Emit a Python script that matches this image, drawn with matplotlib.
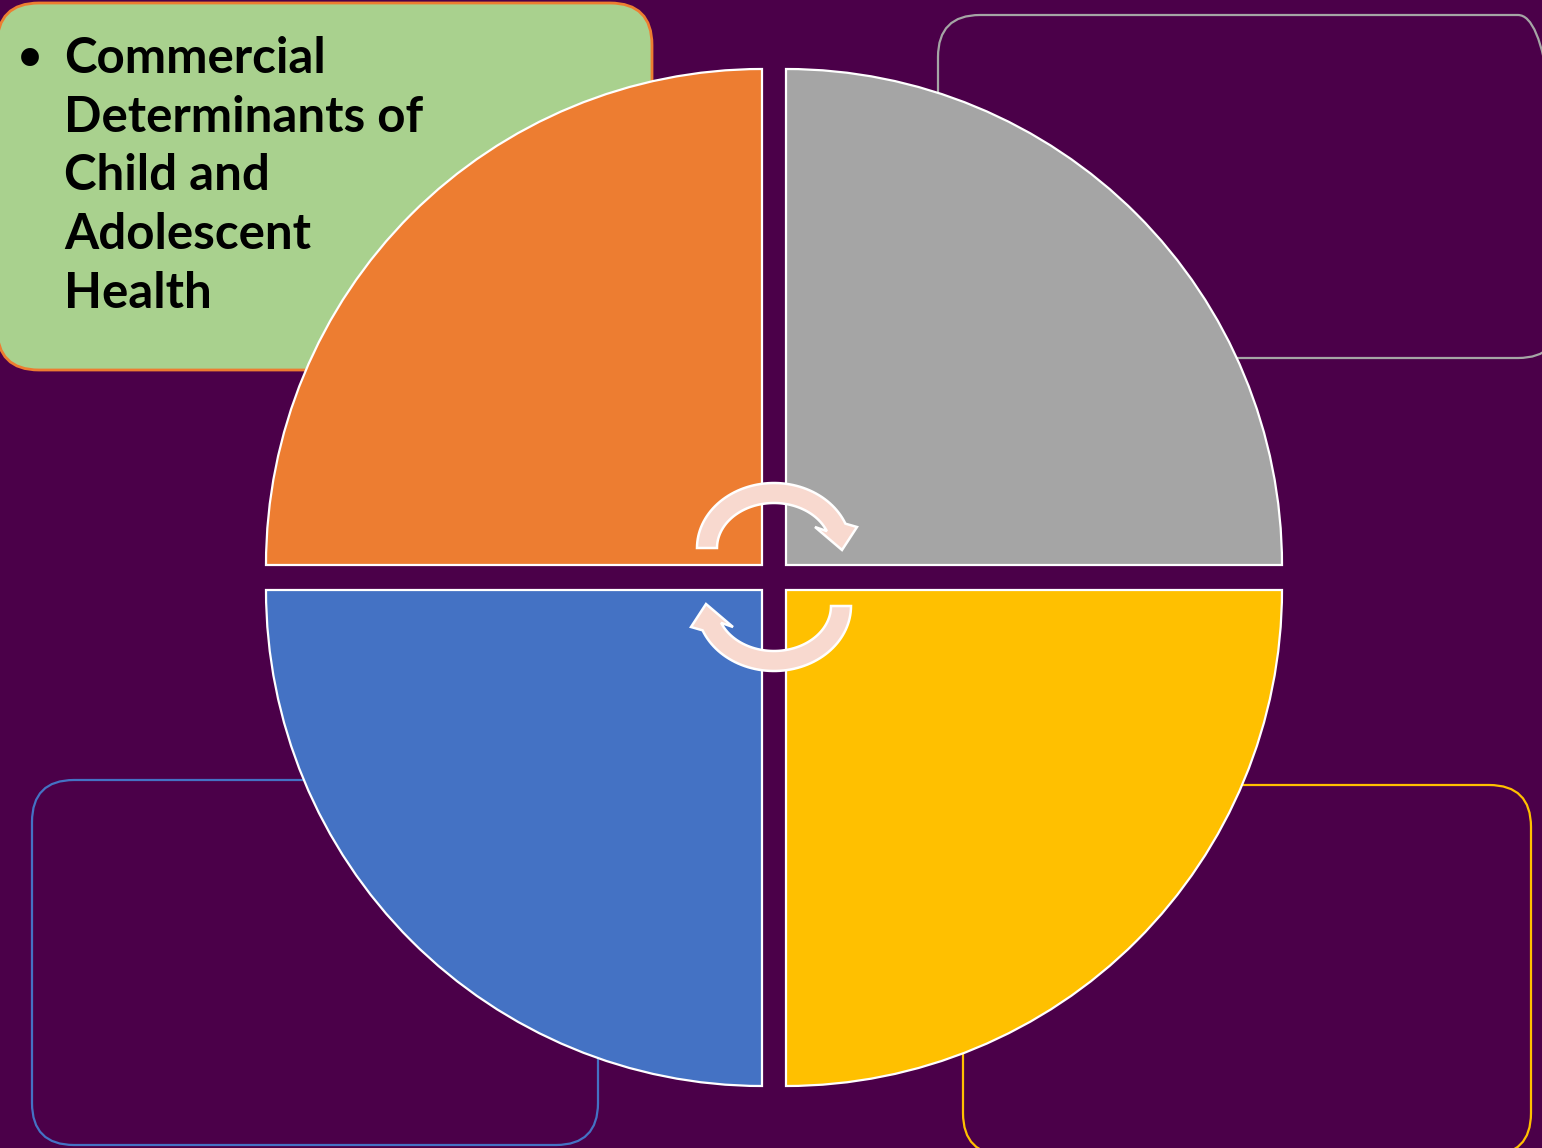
import numpy as np
import matplotlib.pyplot as plt
from matplotlib.patches import Wedge, FancyBboxPatch, Polygon

W, H = 1542, 1148
bg = "#4b0049"

# four quarters of the cycle: (colour, corner x, corner y from top, start angle)
quarter_colors = ["#ed7d31", "#a5a5a5", "#4472c4", "#ffc000"]
quarter_corners = [(762, 565), (786, 565), (762, 590), (786, 590)]
quarter_angles = [90, 0, 180, 270]
radius = 496

# side boxes: (x0, y0 top, x1, y1 bottom), edge colour, face colour
box_rects = [(-3, 3, 652, 370), (938, 15, 1560, 358), (32, 780, 598, 1145), (963, 785, 1531, 1155)]
box_edges = ["#ed7d31", "#a5a5a5", "#4472c4", "#ffc000"]
box_faces = ["#a9d18e", "none", "none", "none"]

text_lines = ["Commercial", "Determinants of", "Child and", "Adolescent", "Health"]

fig = plt.figure(figsize=(W / 100, H / 100), dpi=100)
fig.patch.set_facecolor(bg)
ax = fig.add_axes([0, 0, 1, 1])
ax.set_xlim(0, W)
ax.set_ylim(0, H)
ax.set_facecolor(bg)
ax.axis("off")

# boxes behind the circle
for (x0, y0, x1, y1), ec, fc in zip(box_rects, box_edges, box_faces):
    lw = 2.0 if fc != "none" else 1.6
    ax.add_patch(FancyBboxPatch((x0, H - y1), x1 - x0, y1 - y0,
                                boxstyle="round,pad=0,rounding_size=42",
                                fc=fc, ec=ec, lw=lw, zorder=1))

# quarters
for col, (cx, cy), a in zip(quarter_colors, quarter_corners, quarter_angles):
    ax.add_patch(Wedge((cx, H - cy), radius, a, a + 90, fc=col, ec="white", lw=1.6, zorder=2))


# curved arrow (upper one), then rotate by 180 degrees for the lower one
def arrow_pts():
    cx, cy = 774, H - 548
    t = np.radians(np.linspace(180, 22, 60))
    outer = np.c_[cx + 77 * np.cos(t), cy + 65 * np.sin(t)]
    inner = np.c_[cx + 57 * np.cos(t[::-1]), cy + 45 * np.sin(t[::-1])]
    head = np.array([[857, H - 527], [842, H - 550], [815, H - 527]])
    return np.vstack([outer, head, inner])


pts = arrow_pts()
ax.add_patch(Polygon(pts, closed=True, fc="#f8d9cf", ec="white", lw=1.8, zorder=3))
rot = np.c_[2 * 774 - pts[:, 0], 2 * (H - 577) - pts[:, 1]]
ax.add_patch(Polygon(rot, closed=True, fc="#f8d9cf", ec="white", lw=1.8, zorder=3))

# title text in the green box
ax.text(30, H - 80, "•", fontsize=44, fontfamily="DejaVu Sans",
        ha="center", va="baseline", color="black", zorder=4)
for i, line in enumerate(text_lines):
    ax.text(64, H - 73 - i * 58.7, line, fontsize=35.5, fontfamily="Lato",
            fontweight="bold", ha="left", va="baseline", color="black", zorder=4)

fig.savefig("out.png", dpi=100, facecolor=bg)
